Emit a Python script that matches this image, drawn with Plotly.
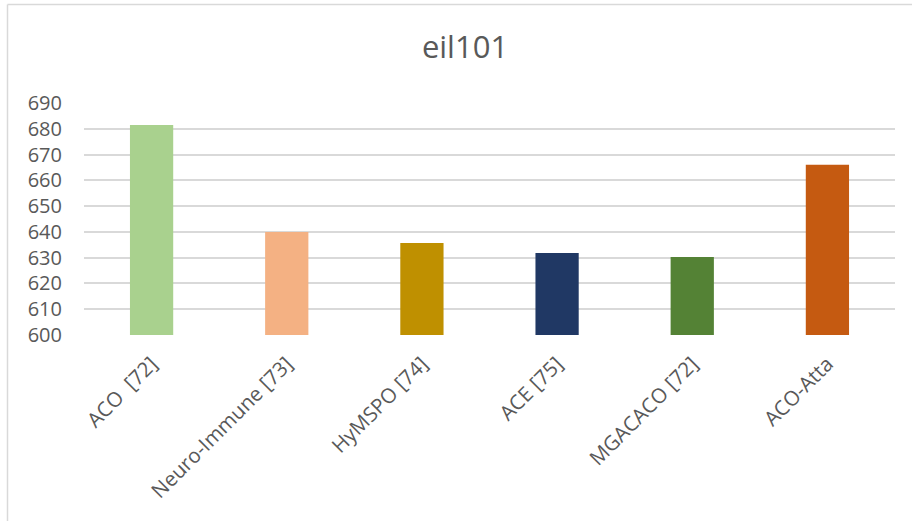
import plotly.graph_objects as go

categories = ["ACO\u00a0 [72]", "Neuro-Immune [73]", "HyMSPO [74]", "ACE [75]", "MGACACO [72]", "ACO-Atta"]
values = [681.5, 640.0, 635.7, 631.8, 630.3, 666.0]
colors = ["#A9D18E", "#F4B183", "#BF9000", "#203864", "#548235", "#C55A11"]
y_ticks = [600, 610, 620, 630, 640, 650, 660, 670, 680, 690]

W, H = 912, 521
L, R, T, B = 84, 17, 103, 186
pw, ph = W - L - R, H - T - B

fig = go.Figure(go.Bar(
    x=categories, y=values, marker=dict(color=colors, line=dict(width=0)),
    width=0.32,
))

font_family = "Open Sans, Noto Sans, sans-serif"
fig.update_layout(
    width=W, height=H,
    margin=dict(l=L, r=R, t=T, b=B),
    paper_bgcolor="white", plot_bgcolor="white",
    showlegend=False,
    title=dict(text="eil101", x=(465 - L) / pw, xref="paper", xanchor="center",
               y=1 - 47 / H, yanchor="middle",
               font=dict(family=font_family, size=31, color="#595959")),
    xaxis=dict(tickangle=-45, tickfont=dict(family=font_family, size=20.5, color="#595959"),
               showgrid=False, showline=False, ticks="", zeroline=False, ticklabelstandoff=12),
    yaxis=dict(range=[600, 690], tickvals=y_ticks, showgrid=True, gridcolor="#D9D9D9", gridwidth=1.5,
               tickfont=dict(family=font_family, size=20, color="#595959"),
               zeroline=False, showline=False, ticks="", ticklabelstandoff=21),
    shapes=[
        dict(type="line", xref="paper", yref="paper",
             x0=(7.5 - L) / pw, x1=(7.5 - L) / pw, y0=1 + (T - 4.5) / ph, y1=-(B + 5) / ph,
             line=dict(color="#D9D9D9", width=1.5)),
        dict(type="line", xref="paper", yref="paper",
             x0=(7.5 - L) / pw, x1=(W + 5 - L) / pw, y0=1 + (T - 4.5) / ph, y1=1 + (T - 4.5) / ph,
             line=dict(color="#D9D9D9", width=1.5)),
    ],
)

fig.write_html("out.html")
